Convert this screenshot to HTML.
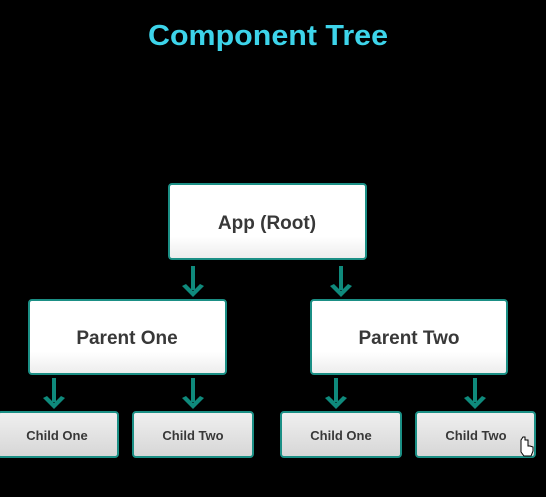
<!DOCTYPE html>
<html><head><style>html,body{margin:0;padding:0;background:#000;width:546px;height:497px;overflow:hidden}</style></head>
<body>
<svg width="546" height="497" viewBox="0 0 546 497" xmlns="http://www.w3.org/2000/svg" font-family="Liberation Sans, sans-serif" font-weight="bold">
<defs>
<linearGradient id="g1" x1="0" y1="0" x2="0" y2="1"><stop offset="0" stop-color="#ffffff"/><stop offset="0.7" stop-color="#ffffff"/><stop offset="1" stop-color="#ececec"/></linearGradient>
<linearGradient id="g2" x1="0" y1="0" x2="0" y2="1"><stop offset="0" stop-color="#f0f0f0"/><stop offset="1" stop-color="#d6d6d6"/></linearGradient>
</defs>
<rect width="546" height="497" fill="#000"/>
<text x="268" y="45" text-anchor="middle" font-size="29" fill="#3dd4ea" textLength="240" lengthAdjust="spacingAndGlyphs">Component Tree</text>
<g stroke="#1b8f85" stroke-width="2">
<rect x="169" y="184" width="197" height="75" rx="3" fill="url(#g1)"/>
<rect x="29" y="300" width="197" height="74" rx="3" fill="url(#g1)"/>
<rect x="311" y="300" width="196" height="74" rx="3" fill="url(#g1)"/>
<rect x="-2" y="412" width="120" height="45" rx="3" fill="url(#g2)"/>
<rect x="133" y="412" width="120" height="45" rx="3" fill="url(#g2)"/>
<rect x="281" y="412" width="120" height="45" rx="3" fill="url(#g2)"/>
<rect x="416" y="412" width="119" height="45" rx="3" fill="url(#g2)"/>
</g>
<g stroke="#0f8a7c" stroke-width="4">
<path d="M193 266V290M341 266V290M54 378V402M193 378V402M336 378V402M475 378V402"/>
</g>
<g fill="#0f8a7c">
<path d="M182 286L193 297L204 286L200 284L193 291L186 284Z"/>
<path d="M330 286L341 297L352 286L348 284L341 291L334 284Z"/>
<path d="M43 398L54 409L65 398L61 396L54 403L47 396Z"/>
<path d="M182 398L193 409L204 398L200 396L193 403L186 396Z"/>
<path d="M325 398L336 409L347 398L343 396L336 403L329 396Z"/>
<path d="M464 398L475 409L486 398L482 396L475 403L468 396Z"/>
</g>
<g fill="#383838" text-anchor="middle">
<text x="267" y="229" font-size="19">App (Root)</text>
<text x="127" y="344" font-size="19">Parent One</text>
<text x="409" y="344" font-size="19">Parent Two</text>
<text x="57" y="440" font-size="13">Child One</text>
<text x="193" y="440" font-size="13">Child Two</text>
<text x="341" y="440" font-size="13">Child One</text>
<text x="476" y="440" font-size="13">Child Two</text>
</g>
<path d="M521 440v12l3 4h7l2-5v-4l-3-1-2 0v-6l-3 0v-3h-2z" fill="#fff" stroke="#000" stroke-width="1"/>
</svg>
</body></html>
